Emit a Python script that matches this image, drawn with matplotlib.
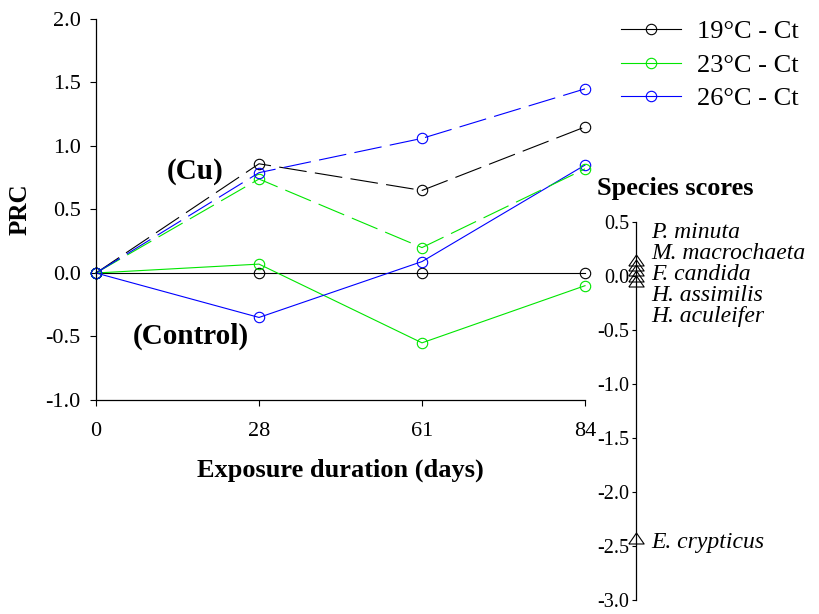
import matplotlib
matplotlib.use("Agg")
import matplotlib.pyplot as plt
import numpy as np
from matplotlib.transforms import offset_copy

# --- data -------------------------------------------------------------
days = ["0", "28", "61", "84"]
series_labels = ["19°C - Ct", "23°C - Ct", "26°C - Ct"]
series_colors = ["black", "#00e600", "#0000ff"]

control = [
    [0.0, 0.00, 0.00, 0.00],    # 19 °C
    [0.0, 0.07, -0.55, -0.10],  # 23 °C
    [0.0, -0.35, 0.09, 0.85],   # 26 °C
]
copper = [
    [0.0, 0.86, 0.65, 1.15],
    [0.0, 0.74, 0.20, 0.82],
    [0.0, 0.79, 1.06, 1.45],
]

species = ["P. minuta", "M. macrochaeta", "F. candida", "H. assimilis",
           "H. aculeifer", "E. crypticus"]
species_scores = [0.15, 0.10, 0.05, 0.00, -0.05, -2.43]

# --- style ------------------------------------------------------------
plt.rcParams["font.family"] = ["Liberation Serif", "DejaVu Serif"]
plt.rcParams["axes.unicode_minus"] = False
plt.rcParams["lines.scale_dashes"] = False

fig = plt.figure(figsize=(8.19, 6.14), dpi=100)
W, H = 819, 614

# main PRC axes
ax = fig.add_axes([96 / W, 1 - 400 / H, (585 - 96) / W, (400 - 19) / H])
x = np.arange(len(days))
handles = []
for vals, col, lab in zip(control, series_colors, series_labels):
    (h,) = ax.plot(x, vals, color=col, lw=0.8, marker="o", ms=7.5,
                   mfc="none", mec=col, mew=0.8, label=lab, clip_on=False)
    handles.append(h)
for vals, col in zip(copper, series_colors):
    ax.plot(x, vals, color=col, lw=0.8, marker="o", ms=7.5, mfc="none",
            mec=col, mew=0.8, dashes=(20, 6), clip_on=False)

ax.set_xlim(0, 3)
ax.set_ylim(-1, 2)
ax.set_xticks(x)
ax.set_xticklabels(days)
ax.set_yticks(np.arange(-1.0, 2.01, 0.5))
ax.set_yticklabels([f"{v:.1f}" for v in np.arange(-1.0, 2.01, 0.5)])
ax.tick_params(direction="out", length=4, width=0.8, labelsize=16)
ax.tick_params(axis="x", pad=12)
ax.tick_params(axis="y", pad=7)
for s in ["top", "right"]:
    ax.spines[s].set_visible(False)
for s in ["left", "bottom"]:
    ax.spines[s].set_linewidth(0.9)

ax.set_xlabel("Exposure duration (days)", fontsize=19, fontweight="bold")
ax.xaxis.set_label_coords(0.5, -0.155)
ax.set_ylabel("PRC", fontsize=18, fontweight="bold")
ax.yaxis.set_label_coords(-0.131, 0.5)
ax.text(0.61, 0.80, "(Cu)", fontsize=21, fontweight="bold",
        ha="center", va="center")
ax.text(0.58, -0.50, "(Control)", fontsize=21, fontweight="bold",
        ha="center", va="center")

fig.legend(handles=handles, loc="upper left",
           bbox_to_anchor=(621 / W, 1 - 20 / H), frameon=False,
           fontsize=19, handlelength=2.27, handletextpad=0.6,
           labelspacing=0.38, borderpad=0, borderaxespad=0)

# species score axis
sax = fig.add_axes([636 / W, 1 - 600 / H, 0.2, (600 - 221.7) / H])
sax.set_ylim(-3.0, 0.5)
sax.set_xlim(0, 1)
sax.set_yticks(np.arange(-3.0, 0.51, 0.5))
sax.set_yticklabels([f"{v:.1f}" for v in np.arange(-3.0, 0.51, 0.5)])
sax.set_xticks([])
sax.tick_params(direction="out", length=3, width=0.8, labelsize=14.5, pad=2)
for s in ["top", "right", "bottom"]:
    sax.spines[s].set_visible(False)
sax.spines["left"].set_linewidth(0.9)
sax.patch.set_visible(False)

tri = [(-1, -0.72), (1, -0.72), (0, 0.72), (-1, -0.72)]
sax.plot(np.zeros(len(species_scores)), species_scores, linestyle="none",
         marker=tri, ms=11, mfc="none", mec="black", mew=0.8, clip_on=False)

# labels of the crowded cluster are spread out around its mean
cluster = species_scores[:5]
step = 0.195
label_y = [np.mean(cluster) + step * (2 - i) for i in range(5)]
label_y.append(species_scores[5])
tr = offset_copy(sax.transData, fig=fig, x=11, y=-7, units="points")
for name, yv in zip(species, label_y):
    sax.text(0, yv, name, fontsize=17, style="italic", transform=tr,
             ha="left", va="baseline")

fig.text(597 / W, 1 - 188 / H, "Species scores", fontsize=19,
         fontweight="bold", ha="left", va="center")

fig.savefig("out.png", dpi=100)
